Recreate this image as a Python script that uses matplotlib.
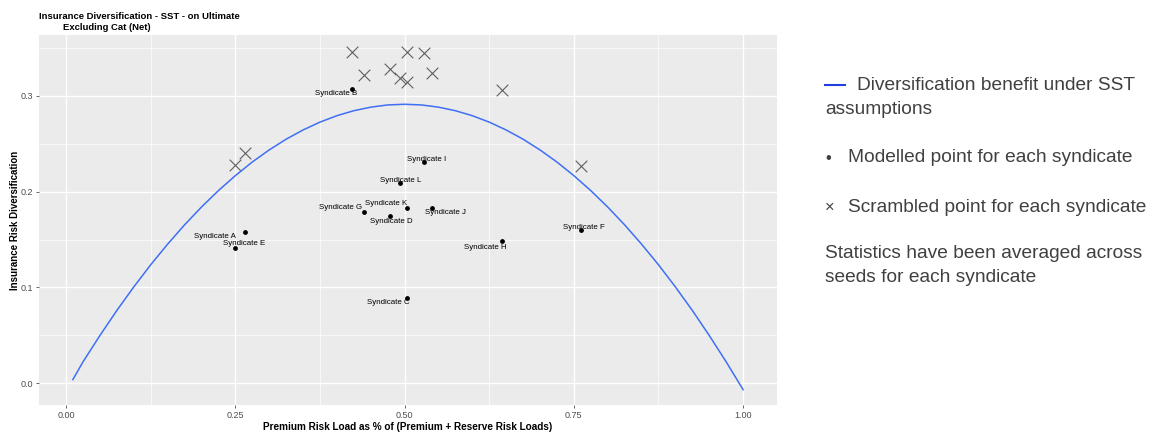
import matplotlib
matplotlib.use("Agg")
import matplotlib.pyplot as plt
from matplotlib.lines import Line2D

plt.rcParams['font.family'] = ['Liberation Sans', 'DejaVu Sans']

# datos de los sindicatos (punto modelado y punto "scrambled")
syndicates = ["A", "B", "C", "D", "E", "F", "G", "H", "I", "J", "K", "L"]
premium_share = [0.265, 0.423, 0.503, 0.478, 0.250, 0.760, 0.440, 0.644, 0.529, 0.540, 0.504, 0.493]
modelled_div = [0.158, 0.307, 0.089, 0.175, 0.141, 0.160, 0.179, 0.148, 0.231, 0.183, 0.183, 0.209]
scrambled_div = [0.240, 0.346, 0.346, 0.328, 0.228, 0.227, 0.322, 0.306, 0.344, 0.324, 0.314, 0.318]

# curva de beneficio de diversificacion SST
curve_x = [0.01, 0.025, 0.05, 0.075, 0.10, 0.125, 0.15, 0.175, 0.20, 0.225, 0.25,
           0.275, 0.30, 0.325, 0.35, 0.375, 0.40, 0.425, 0.45, 0.475, 0.50,
           0.525, 0.55, 0.575, 0.60, 0.625, 0.65, 0.675, 0.70, 0.725, 0.75,
           0.775, 0.80, 0.825, 0.85, 0.875, 0.90, 0.925, 0.95, 0.975, 1.00]
curve_y = [0.004, 0.0225, 0.050, 0.0761, 0.1006, 0.1237, 0.1452, 0.1653, 0.1839, 0.2010, 0.2166,
           0.2308, 0.2434, 0.2546, 0.2642, 0.2724, 0.2791, 0.2843, 0.2880, 0.2903, 0.291,
           0.2903, 0.2880, 0.2843, 0.2791, 0.2724, 0.2642, 0.2546, 0.2434, 0.2308, 0.2166,
           0.2010, 0.1839, 0.1653, 0.1452, 0.1237, 0.1006, 0.0761, 0.050, 0.0225, -0.0065]

x_ticks = [0.0, 0.25, 0.50, 0.75, 1.00]
x_ticklabels = ["0.00", "0.25", "0.50", "0.75", "1.00"]
y_ticks = [0.0, 0.1, 0.2, 0.3]
y_ticklabels = ["0.0", "0.1", "0.2", "0.3"]

# desplazamiento de cada etiqueta respecto a su punto (en puntos)
label_offsets = [(-22, -3.5), (-11.5, -3.5), (-13, -3.5), (1, -4.5), (6, 3), (2, 2),
                 (-17, 3), (-12, -4.5), (2, 2), (10, -3.5), (-15, 3), (0.5, 1.5)]

fig = plt.figure(figsize=(11.61, 4.32), dpi=100)
ax = fig.add_axes([0.0336, 0.0625, 0.6356, 0.856])

ax.set_facecolor('#EBEBEB')
for s in ax.spines.values():
    s.set_visible(False)

ax.set_xlim(-0.04, 1.05)
ax.set_ylim(-0.0225, 0.363)

ax.set_xticks(x_ticks)
ax.set_xticklabels(x_ticklabels)
ax.set_yticks(y_ticks)
ax.set_yticklabels(y_ticklabels)
ax.set_xticks([0.125, 0.375, 0.625, 0.875], minor=True)
ax.set_yticks([0.05, 0.15, 0.25, 0.35], minor=True)
ax.grid(which='major', color='white', linewidth=1.0)
ax.grid(which='minor', color='white', linewidth=0.5)
ax.set_axisbelow(True)
ax.tick_params(which='major', length=2, width=0.6, color='#4D4D4D', labelsize=6.5, labelcolor='#4D4D4D', pad=2)
ax.tick_params(which='minor', length=0)

ax.plot(curve_x, curve_y, color='#3F6FF5', linewidth=1.1)
ax.scatter(premium_share, scrambled_div, marker='x', s=70, color='#606060', linewidths=0.8)
ax.scatter(premium_share, modelled_div, s=6, color='black')

for name, x, y, off in zip(syndicates, premium_share, modelled_div, label_offsets):
    ax.annotate("Syndicate " + name, (x, y), xytext=off, textcoords='offset points',
                ha='center', va='center', fontsize=5.7, color='black')

ax.set_xlabel("Premium Risk Load as % of (Premium + Reserve Risk Loads)", fontsize=7.2, fontweight='bold', labelpad=2)
ax.set_ylabel("Insurance Risk Diversification", fontsize=7, fontweight='bold', labelpad=1)

fig.text(0.0336, 0.962, "Insurance Diversification - SST - on Ultimate", fontsize=6.8, fontweight='bold', va='center')
fig.text(0.054, 0.937, "Excluding Cat (Net)", fontsize=6.8, fontweight='bold', va='center')

# leyenda a la derecha como texto
txt_color = '#404040'
fs = 13.8
fig.add_artist(Line2D([825 / 1161, 845 / 1161], [1 - 85 / 432, 1 - 85 / 432], color='#2040E0', linewidth=1.5))
fig.text(857 / 1161, 1 - 86 / 432, "Diversification benefit under SST", fontsize=fs, color=txt_color, va='center')
fig.text(825 / 1161, 1 - 110 / 432, "assumptions", fontsize=fs, color=txt_color, va='center')
fig.text(825 / 1161, 1 - 158 / 432, "\u2022", fontsize=fs - 2, color=txt_color, va='center')
fig.text(848 / 1161, 1 - 158 / 432, "Modelled point for each syndicate", fontsize=fs, color=txt_color, va='center')
fig.text(825 / 1161, 1 - 207 / 432, "\u00d7", fontsize=fs - 2, color=txt_color, va='center')
fig.text(848 / 1161, 1 - 207 / 432, "Scrambled point for each syndicate", fontsize=fs, color=txt_color, va='center')
fig.text(825 / 1161, 1 - 254 / 432, "Statistics have been averaged across", fontsize=fs, color=txt_color, va='center')
fig.text(825 / 1161, 1 - 278 / 432, "seeds for each syndicate", fontsize=fs, color=txt_color, va='center')

fig.savefig("out.png", dpi=100)
